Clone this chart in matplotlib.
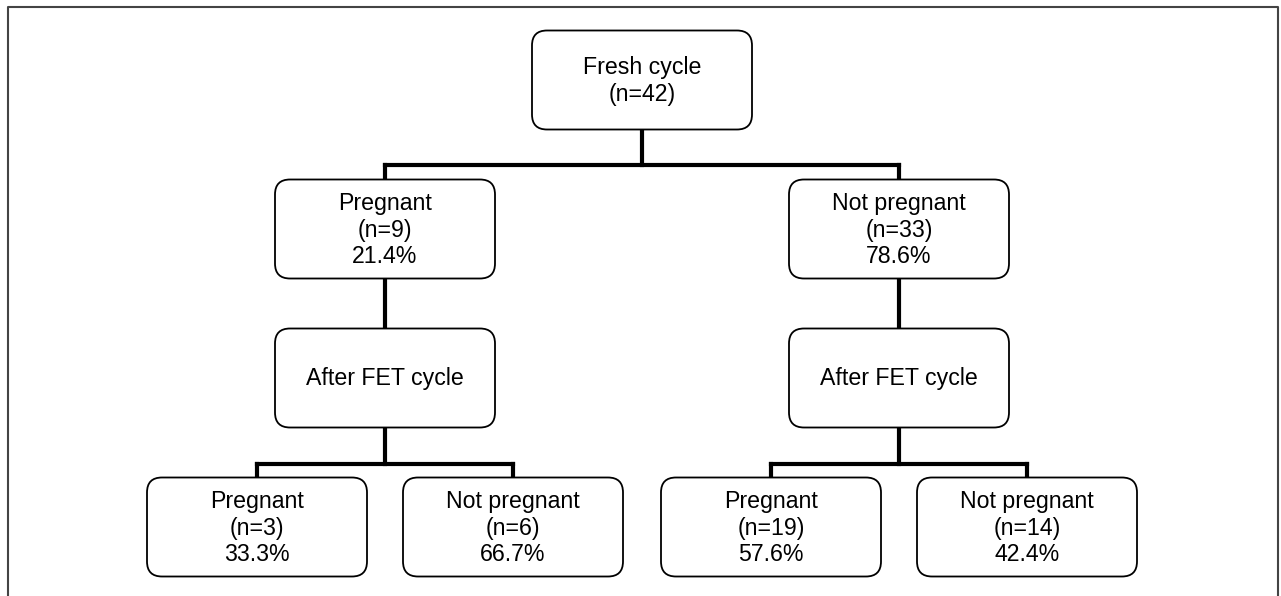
import matplotlib.pyplot as plt
from matplotlib.patches import FancyBboxPatch

plt.rcParams['font.family'] = ['Liberation Sans', 'DejaVu Sans']

# data
top_label = "Fresh cycle"
top_n = 42
fresh_labels = ["Pregnant", "Not pregnant"]
fresh_n = [9, 33]
fresh_pct = [21.4, 78.6]
fet_label = "After FET cycle"
fet_labels = ["Pregnant", "Not pregnant", "Pregnant", "Not pregnant"]
fet_n = [3, 6, 19, 14]
fet_pct = [33.3, 66.7, 57.6, 42.4]

# layout (pixel coordinates)
W, H = 1281, 596
BW, BH = 220, 99
top_c = (642, 80)
lvl2_x = [385, 899]
lvl2_y = 229
lvl3_y = 378
lvl4_x = [257, 513, 771, 1027]
lvl4_y = 527

fig = plt.figure(figsize=(W / 100, H / 100), dpi=100)
ax = fig.add_axes([0, 0, 1, 1])
ax.set_xlim(0, W)
ax.set_ylim(H, 0)
ax.axis('off')

# outer frame (open at bottom)
ax.plot([8, 8, 1278, 1278], [H, 7, 7, H], color='#444444', lw=1.5)


def box(cx, cy, text):
    p = FancyBboxPatch((cx - BW / 2 + 15, cy - BH / 2 + 15), BW - 30, BH - 30,
                       boxstyle="round,pad=15", fc='white', ec='black', lw=1.3, zorder=3)
    ax.add_patch(p)
    ax.text(cx, cy + 1, text, ha='center', va='center', fontsize=16.7,
            linespacing=1.22, zorder=4)


def link(x0, y0, xs, y_mid, y1):
    ax.plot([x0, x0], [y0, y_mid], color='black', lw=3, zorder=2, solid_capstyle='projecting')
    ax.plot([min(xs), max(xs)], [y_mid, y_mid], color='black', lw=3, zorder=2,
            solid_capstyle='projecting')
    for x in xs:
        ax.plot([x, x], [y_mid, y1], color='black', lw=3, zorder=2)


box(*top_c, f"{top_label}\n(n={top_n})")
link(top_c[0], top_c[1] + BH / 2, lvl2_x, 165, lvl2_y - BH / 2)

for i, x in enumerate(lvl2_x):
    box(x, lvl2_y, f"{fresh_labels[i]}\n(n={fresh_n[i]})\n{fresh_pct[i]:.1f}%")
    ax.plot([x, x], [lvl2_y + BH / 2, lvl3_y - BH / 2], color='black', lw=3, zorder=2)
    box(x, lvl3_y, fet_label)
    xs = lvl4_x[2 * i:2 * i + 2]
    link(x, lvl3_y + BH / 2, xs, 464, lvl4_y - BH / 2)

for i, x in enumerate(lvl4_x):
    box(x, lvl4_y, f"{fet_labels[i]}\n(n={fet_n[i]})\n{fet_pct[i]:.1f}%")

fig.savefig('out.png', dpi=100)
